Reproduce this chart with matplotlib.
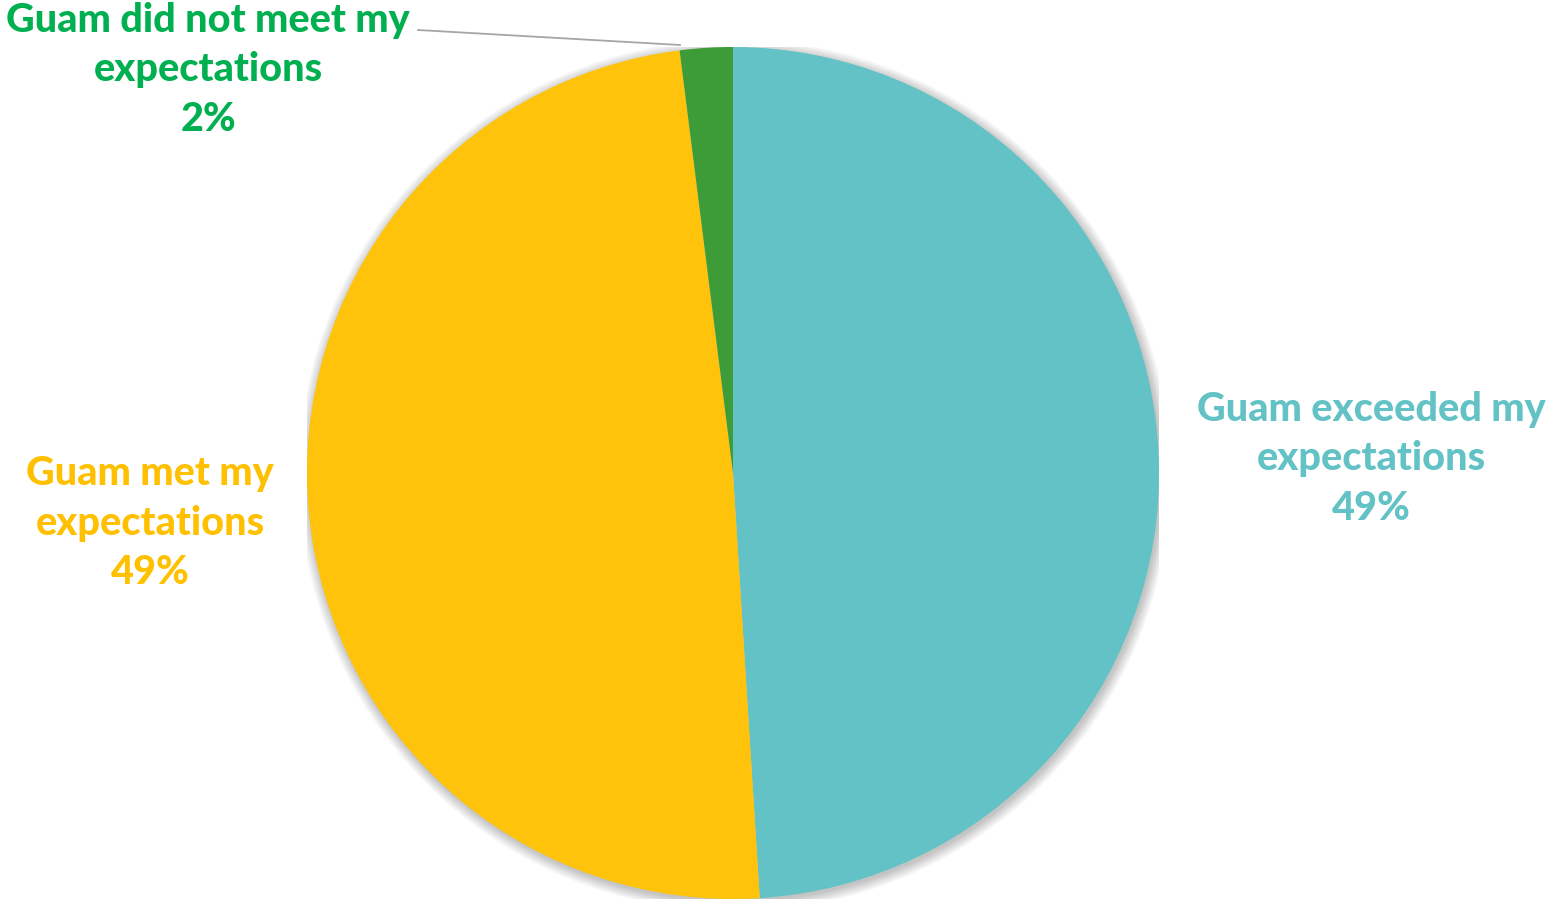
import numpy as np
import matplotlib
matplotlib.use("Agg")
from matplotlib import pyplot as plt
from matplotlib.patches import Circle

labels = ["Guam exceeded my\nexpectations", "Guam met my\nexpectations", "Guam did not meet my\nexpectations"]
values = [49, 49, 2]
pcts = ["49%", "49%", "2%"]
colors = ["#62C2C5", "#FFC30B", "#3D9C37"]
text_colors = ["#62C2C5", "#FFC000", "#00AF50"]

W, H = 1554, 903
fig = plt.figure(figsize=(W / 100, H / 100), dpi=100)
fig.patch.set_facecolor("white")

# pie centre and radius in pixels
cx, cy, r = 733, 474, 426
ax = fig.add_axes([(cx - r) / W, (H - cy - r) / H, 2 * r / W, 2 * r / H])
ax.set_xlim(-1, 1)
ax.set_ylim(-1, 1)
ax.set_aspect("equal")
ax.axis("off")

# soft shadow
for i in range(12):
    ax.add_patch(Circle((0.004, -0.006), 1 + 0.0022 * i, color="black",
                        alpha=0.018, lw=0, zorder=0))

wedges, _ = ax.pie(values, colors=colors, startangle=90, counterclock=False,
                   radius=1, frame=False)
for w in wedges:
    w.set_zorder(2)
ax.set_xlim(-1, 1)
ax.set_ylim(-1, 1)

font = "Lato"
# label positions in figure pixels (centre of text block)
pos = [(1371, 459), (150, 523), (208, 70)]
sizes = [28.5, 28.5, 28.5]
for lab, pct, tc, (px, py), fs in zip(labels, pcts, text_colors, pos, sizes):
    fig.text(px / W, 1 - py / H, lab + "\n" + pct, ha="center", va="center",
             color=tc, fontsize=fs, linespacing=1.43,
             fontfamily=font, fontweight="black")

# leader line for small slice
fig.add_artist(plt.Line2D([418 / W, 680 / W], [1 - 31 / H, 1 - 46 / H],
                          color="#A6A6A6", lw=1.3))

fig.savefig("out.png", dpi=100, facecolor="white")
